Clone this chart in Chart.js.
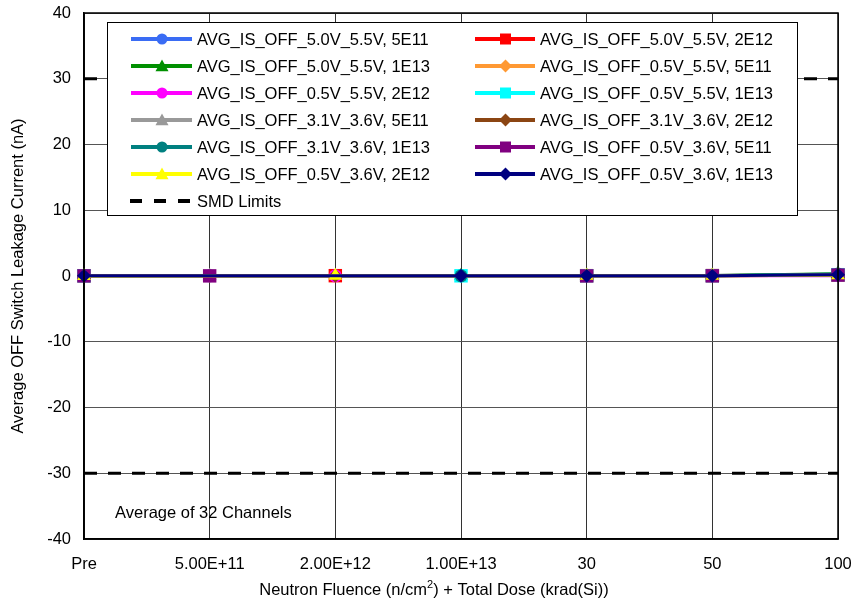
<!DOCTYPE html>
<html>
<head>
<meta charset="utf-8">
<script src="https://cdn.jsdelivr.net/npm/chart.js@4/dist/chart.umd.min.js"></script>
<style>
  html, body { margin: 0; padding: 0; background: #fff; }
  #wrap { width: 852px; height: 601px; }
</style>
</head>
<body>
<div id="wrap"><canvas id="chart" width="852" height="601"></canvas></div>
<script>
const categories = ['Pre', '5.00E+11', '2.00E+12', '1.00E+13', '30', '50', '100'];
const yTicks = [-40, -30, -20, -10, 0, 10, 20, 30, 40];

// each fluence group only has a reading at its own fluence step
const s_50_55_5e11 = [0.05, 0.02, null, null, 0.05, 0.06, 0.2];
const s_50_55_2e12 = [0.04, null, 0.05, null, 0.05, 0.06, 0.15];
const s_50_55_1e13 = [0.05, null, null, 0.05, 0.06, 0.08, 0.35];
const s_05_55_5e11 = [0.03, 0.02, null, null, 0.03, 0.04, 0.15];
const s_05_55_2e12 = [0.02, null, 0.03, null, 0.03, 0.03, 0.05];
const s_05_55_1e13 = [0.03, null, null, 0.03, 0.04, 0.05, 0.2];
const s_31_36_5e11 = [0.02, 0.02, null, null, 0.03, 0.03, 0.12];
const s_31_36_2e12 = [0.02, null, 0.02, null, 0.03, 0.03, 0.1];
const s_31_36_1e13 = [0.03, null, null, 0.03, 0.04, 0.05, 0.3];
const s_05_36_5e11 = [0.02, 0.02, null, null, 0.02, 0.03, 0.15];
const s_05_36_2e12 = [0.01, null, 0.02, null, 0.02, 0.02, 0.1];
const s_05_36_1e13 = [0.02, null, null, 0.02, 0.03, 0.04, 0.2];
const smdUpper = [30, 30, 30, 30, 30, 30, 30];
const smdLower = [-30, -30, -30, -30, -30, -30, -30];

const seriesNames = [
  'AVG_IS_OFF_5.0V_5.5V, 5E11', 'AVG_IS_OFF_5.0V_5.5V, 2E12',
  'AVG_IS_OFF_5.0V_5.5V, 1E13', 'AVG_IS_OFF_0.5V_5.5V, 5E11',
  'AVG_IS_OFF_0.5V_5.5V, 2E12', 'AVG_IS_OFF_0.5V_5.5V, 1E13',
  'AVG_IS_OFF_3.1V_3.6V, 5E11', 'AVG_IS_OFF_3.1V_3.6V, 2E12',
  'AVG_IS_OFF_3.1V_3.6V, 1E13', 'AVG_IS_OFF_0.5V_3.6V, 5E11',
  'AVG_IS_OFF_0.5V_3.6V, 2E12', 'AVG_IS_OFF_0.5V_3.6V, 1E13'
];
const seriesData = [
  s_50_55_5e11, s_50_55_2e12, s_50_55_1e13, s_05_55_5e11,
  s_05_55_2e12, s_05_55_1e13, s_31_36_5e11, s_31_36_2e12,
  s_31_36_1e13, s_05_36_5e11, s_05_36_2e12, s_05_36_1e13
];
const seriesColors = [
  '#3a6cf4', '#ff0000', '#009000', '#ff9933', '#ff00ff', '#00ffff',
  '#999999', '#8b4513', '#008080', '#800080', '#ffff00', '#000080'
];
const seriesMarkers = [
  'circle', 'rect', 'triangle', 'rectRot', 'circle', 'rect',
  'triangle', 'rectRot', 'circle', 'rect', 'triangle', 'rectRot'
];
const markerRadius = { circle: 6.5, rect: 9.5, triangle: 8, rectRot: 7 };

const FONT = '"Liberation Sans", Arial, sans-serif';

// later series sit on top, like the spreadsheet
const datasets = seriesNames.map((name, i) => ({
  label: name,
  data: seriesData[i],
  order: seriesNames.length - i,
  borderColor: seriesColors[i],
  backgroundColor: seriesColors[i],
  borderWidth: 3,
  pointStyle: seriesMarkers[i],
  pointRadius: markerRadius[seriesMarkers[i]],
  pointBorderWidth: 0,
  spanGaps: true,
  tension: 0,
  clip: false
}));
datasets.push({
  label: 'SMD Limits', data: smdUpper, order: 20, borderColor: '#000', borderWidth: 3,
  borderDash: [13, 11], pointRadius: 0, clip: false
});
datasets.push({
  label: 'SMD Limits lower', data: smdLower, order: 20, borderColor: '#000', borderWidth: 3,
  borderDash: [13, 11], pointRadius: 0, clip: false
});

function drawMarker(ctx, style, x, y, r, color) {
  ctx.save();
  ctx.fillStyle = color;
  ctx.beginPath();
  if (style === 'circle') {
    ctx.arc(x, y, r, 0, Math.PI * 2);
  } else if (style === 'rect') {
    ctx.rect(x - r, y - r, 2 * r, 2 * r);
  } else if (style === 'triangle') {
    ctx.moveTo(x, y - r);
    ctx.lineTo(x + r, y + r * 0.8);
    ctx.lineTo(x - r, y + r * 0.8);
    ctx.closePath();
  } else {
    ctx.moveTo(x, y - r);
    ctx.lineTo(x + r, y);
    ctx.lineTo(x, y + r);
    ctx.lineTo(x - r, y);
    ctx.closePath();
  }
  ctx.fill();
  ctx.restore();
}

const boxPlugin = {
  id: 'boxLegend',
  afterDatasetsDraw(chart) {
    const ctx = chart.ctx;
    const a = chart.chartArea;
    ctx.save();
    ctx.fillStyle = '#fff';
    ctx.fillRect(107, 22, 690, 193);
    ctx.strokeStyle = '#000';
    ctx.lineWidth = 1;
    ctx.strokeRect(107.5, 22.5, 690, 193);
    ctx.font = '16.5px ' + FONT;
    ctx.textBaseline = 'middle';
    ctx.fillStyle = '#000';
    const cols = [{ x0: 131, x1: 192, tx: 197 }, { x0: 475, x1: 535, tx: 540 }];
    seriesNames.forEach((name, i) => {
      const c = cols[i % 2];
      const y = 39 + Math.floor(i / 2) * 27;
      ctx.strokeStyle = seriesColors[i];
      ctx.lineWidth = 4;
      ctx.beginPath();
      ctx.moveTo(c.x0, y);
      ctx.lineTo(c.x1, y);
      ctx.stroke();
      const r = seriesMarkers[i] === 'rect' ? 5.5 : (seriesMarkers[i] === 'circle' ? 5.5 : 6.5);
      drawMarker(ctx, seriesMarkers[i], (c.x0 + c.x1) / 2 + 0.5, y, r, seriesColors[i]);
      ctx.fillStyle = '#000';
      ctx.fillText(name, c.tx, y + 1);
    });
    const ys = 39 + 6 * 27;
    ctx.strokeStyle = '#000';
    ctx.lineWidth = 4;
    ctx.setLineDash([12, 12]);
    ctx.beginPath();
    ctx.moveTo(130, ys);
    ctx.lineTo(192, ys);
    ctx.stroke();
    ctx.setLineDash([]);
    ctx.fillText('SMD Limits', 197, ys + 1);

    ctx.fillText('Average of 32 Channels', 115, 513);

    // plot frame
    ctx.strokeStyle = '#000';
    ctx.lineWidth = 1.5;
    ctx.strokeRect(a.left, a.top, a.right - a.left, a.bottom - a.top);

    // x axis title with superscript
    ctx.textAlign = 'left';
    const p1 = 'Neutron Fluence (n/cm';
    const p2 = ') + Total Dose (krad(Si))';
    ctx.font = '16.5px ' + FONT;
    const w1 = ctx.measureText(p1).width;
    const w2 = ctx.measureText(p2).width;
    ctx.font = '11px ' + FONT;
    const ws = ctx.measureText('2').width;
    const x = 434 - (w1 + ws + w2) / 2;
    ctx.font = '16.5px ' + FONT;
    ctx.fillText(p1, x, 590);
    ctx.font = '11px ' + FONT;
    ctx.fillText('2', x + w1, 585);
    ctx.font = '16.5px ' + FONT;
    ctx.fillText(p2, x + w1 + ws, 590);
    ctx.restore();
  }
};

new Chart(document.getElementById('chart'), {
  type: 'line',
  data: { labels: categories, datasets: datasets },
  options: {
    responsive: false,
    animation: false,
    events: [],
    layout: { padding: { top: 13, right: 0, left: 0, bottom: 0 } },
    plugins: { legend: { display: false }, tooltip: { enabled: false } },
    scales: {
      x: {
        type: 'category',
        offset: false,
        grid: { color: '#333', lineWidth: 1, drawTicks: false },
        border: { color: '#000', width: 1.5 },
        ticks: { color: '#000', font: { family: FONT, size: 16.5 }, padding: 16, maxRotation: 0, autoSkip: false },
        afterFit(scale) {
          scale.height = 62;
          scale.paddingRight = 14;
          scale.paddingLeft = 0;
        }
      },
      y: {
        min: -40, max: 40,
        afterBuildTicks(scale) { scale.ticks = yTicks.map(v => ({ value: v })); },
        grid: { color: '#555', lineWidth: 1, drawTicks: false },
        border: { color: '#000', width: 1.5 },
        ticks: { color: '#000', font: { family: FONT, size: 16.5 }, padding: 13 },
        title: { display: true, text: 'Average OFF Switch Leakage Current (nA)', color: '#000', font: { family: FONT, size: 16.5 }, padding: { top: 9, bottom: 0 } },
        afterFit(scale) {
          scale.width = 84;
          scale.paddingTop = 0;
          scale.paddingBottom = 0;
        }
      }
    }
  },
  plugins: [boxPlugin]
});
</script>
</body>
</html>
